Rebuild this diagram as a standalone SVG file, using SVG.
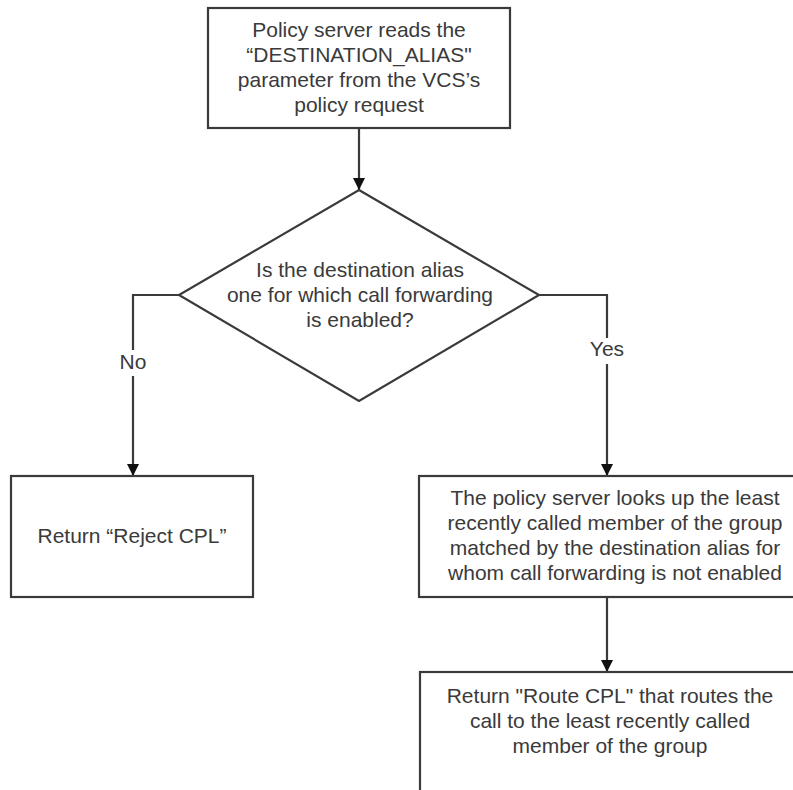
<svg xmlns="http://www.w3.org/2000/svg" width="793" height="790" viewBox="0 0 793 790">
<defs>
<marker id="arr" viewBox="0 0 12 12" refX="12" refY="6" markerWidth="12" markerHeight="12" markerUnits="userSpaceOnUse" orient="auto">
<path d="M0,0 L12,6 L0,12 Z" fill="#111"/>
</marker>
</defs>
<style>
.shape{fill:#fff;stroke:#3a3a3a;stroke-width:2.2}
.conn{fill:none;stroke:#3a3a3a;stroke-width:2.2}
text{font-family:"Liberation Sans",Arial,sans-serif;font-size:21px;fill:#3a3a3a;text-anchor:middle}
.lblbg{fill:#fff;stroke:none}
</style>
<rect width="793" height="790" fill="#fff"/>
<g id="connectors">
<path class="conn" d="M359,128 L359,190" marker-end="url(#arr)"/>
<path class="conn" d="M179,295 L133,295 L133,476" marker-end="url(#arr)"/>
<path class="conn" d="M539,295 L607,295 L607,476" marker-end="url(#arr)"/>
<path class="conn" d="M607,597 L607,672" marker-end="url(#arr)"/>
<rect class="lblbg" x="115" y="350" width="36" height="26"/>
<text x="133" y="369">No</text>
<rect class="lblbg" x="585" y="338" width="44" height="26"/>
<text x="607" y="356">Yes</text>
</g>
<g id="start">
<rect class="shape" x="208" y="8" width="302" height="120"/>
<text x="359" y="37">Policy server reads the</text>
<text x="359" y="62">“DESTINATION_ALIAS"</text>
<text x="359" y="87">parameter from the VCS’s</text>
<text x="359" y="112">policy request</text>
</g>
<g id="decision">
<polygon class="shape" points="359,190 539,295 359,401 179,295"/>
<text x="360" y="277">Is the destination alias</text>
<text x="360" y="302">one for which call forwarding</text>
<text x="360" y="327">is enabled?</text>
</g>
<g id="reject">
<rect class="shape" x="11" y="476" width="242" height="121"/>
<text x="132" y="543">Return “Reject CPL”</text>
</g>
<g id="lookup">
<rect class="shape" x="419" y="476" width="394" height="121"/>
<text x="615" y="505">The policy server looks up the least</text>
<text x="615" y="530">recently called member of the group</text>
<text x="615" y="555">matched by the destination alias for</text>
<text x="615" y="580">whom call forwarding is not enabled</text>
</g>
<g id="route">
<rect class="shape" x="420" y="672" width="394" height="140"/>
<text x="610" y="703">Return "Route CPL" that routes the</text>
<text x="610" y="728">call to the least recently called</text>
<text x="610" y="753">member of the group</text>
</g>
</svg>
